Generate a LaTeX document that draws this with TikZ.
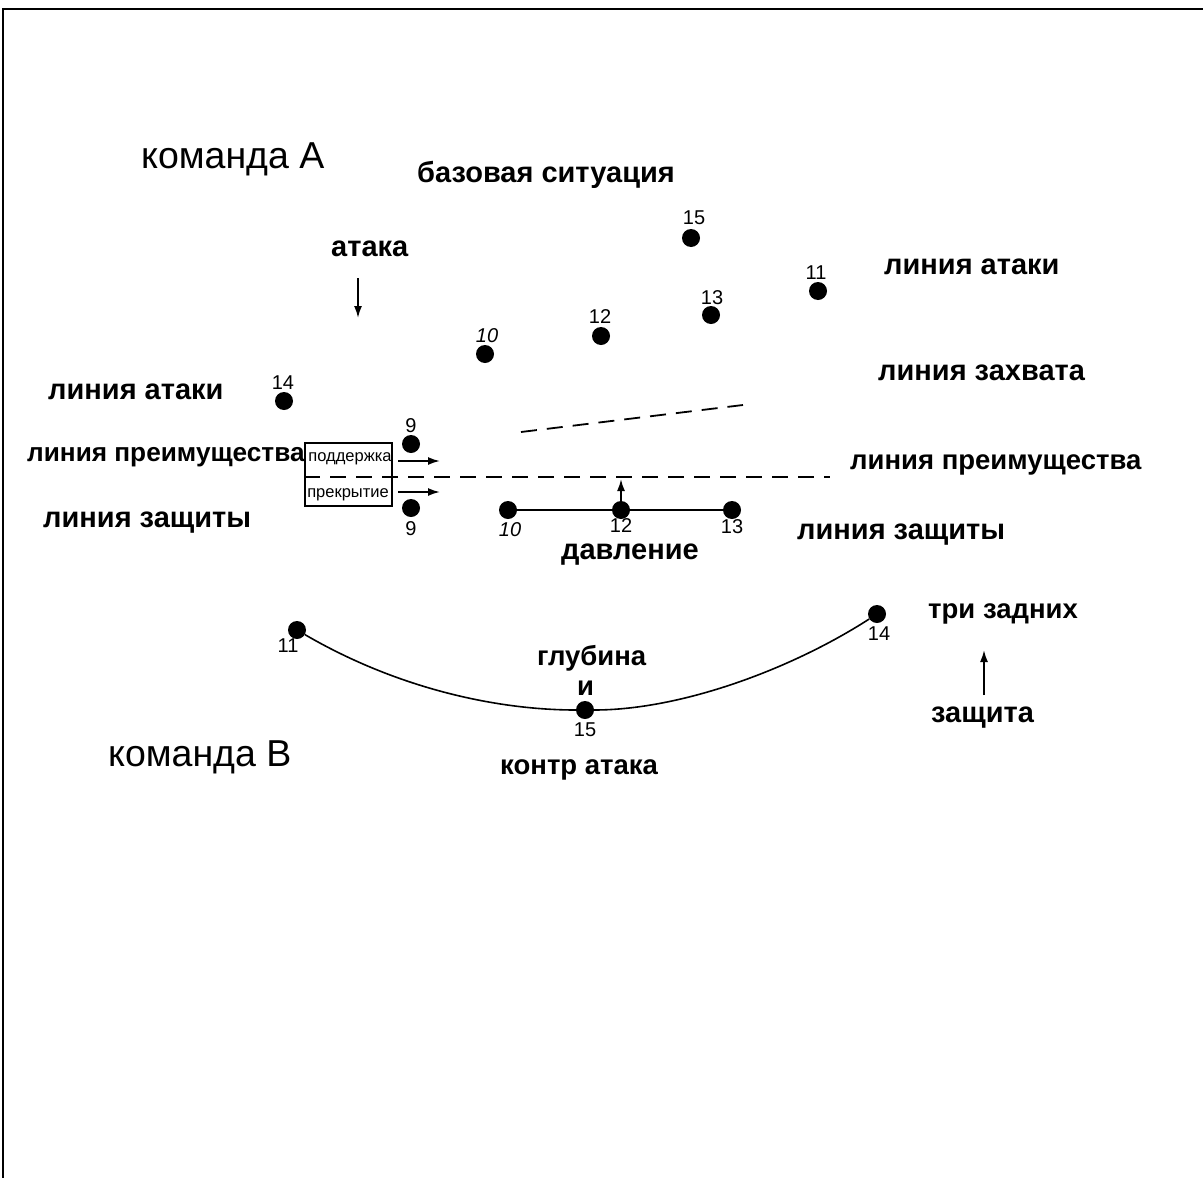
\documentclass[tikz,border=0pt]{standalone}
\usepackage{fontspec}
\setmainfont{Liberation Sans}
\usetikzlibrary{arrows.meta}
\begin{document}
\begin{tikzpicture}[x=1pt,y=-1pt,
  lbl/.style={font=\fontsize{29}{34}\selectfont\bfseries, inner sep=0, anchor=base west},
  lbls/.style={lbl, font=\fontsize{27.5}{32}\selectfont\bfseries},
  lblw/.style={lbl, font=\fontsize{27.5}{32}\selectfont\bfseries},
  team/.style={font=\fontsize{37.5}{44}\selectfont, inner sep=0, anchor=base west},
  num/.style={font=\fontsize{20}{22}\selectfont, inner sep=0, anchor=base},
  numi/.style={num, font=\fontsize{20}{22}\selectfont\itshape},
  boxtxt/.style={font=\fontsize{16.5}{18}\selectfont, inner sep=0},
  dot/.style={circle, fill=black, minimum size=18, inner sep=0},
  solid line/.style={line width=1.8pt},
  dashline/.style={line width=1.8pt, dash pattern=on 16pt off 10pt},
  arr/.style={line width=1.8pt, -{Latex[length=12pt,width=8pt]}}
]
\useasboundingbox (0,0) rectangle (1203,1178);

% frame
\draw[line width=2.5pt] (3,1178) -- (3,9) -- (1203,9);

% team labels and headings
\node[team] (teamA) at (141,168) {команда A};
\node[team] (teamB) at (108,766) {команда B};
\node[lbl] (base) at (417,182) {базовая ситуация};
\node[lbl] (atk) at (331,256) {атака};
\node[lbl] (atkR) at (884,274) {линия атаки};
\node[lbl] (atkL) at (48,399) {линия атаки};
\node[lbl] (capR) at (878,380) {линия захвата};
\node[lbl, font=\fontsize{26.2}{30}\selectfont\bfseries] (advL) at (27,461) {линия преимущества};
\node[lblw] (advR) at (850,469) {линия преимущества};
\node[lbl] (defL) at (43,527) {линия защиты};
\node[lbl] (defR) at (797,539) {линия защиты};
\node[lbl] (press) at (561,559) {давление};
\node[lbls] (three) at (928,618) {три задних};
\node[lbls] (deep) at (537,665) {глубина};
\node[lbls] (andw) at (577,695) {и};
\node[lbl] (guard) at (931,722) {защита};
\node[lbls] (counter) at (500,774) {контр атака};

% attacking players
\node[dot] (a15) at (691,238) {};
\node[dot] (a11) at (818,291) {};
\node[dot] (a13) at (711,315) {};
\node[dot] (a12) at (601,336) {};
\node[dot] (a10) at (485,354) {};
\node[dot] (a14) at (284,401) {};
\node[dot] (a9t) at (411,444) {};
\node[dot] (a9b) at (411,508) {};
\node[num] (n15) at (694,224) {15};
\node[num] (n11) at (816,279) {11};
\node[num] (n13) at (712,304) {13};
\node[num] (n12) at (600,323) {12};
\node[numi] (n10) at (487,342) {10};
\node[num] (n14) at (283,389) {14};
\node[num] (n9t) at (411,432) {9};
\node[num] (n9b) at (411,535) {9};

% defending line
\node[dot] (d10) at (508,510) {};
\node[dot] (d12) at (621,510) {};
\node[dot] (d13) at (732,510) {};
\node[numi] (m10) at (510,536) {10};
\node[num] (m12) at (621,532) {12};
\node[num] (m13) at (732,533) {13};
\draw[solid line] (d10) -- (d13);

% back three
\node[dot] (b11) at (297,630) {};
\node[dot] (b15) at (585,710) {};
\node[dot] (b14) at (877,614) {};
\node[num] (k11) at (288,652) {11};
\node[num] (k15) at (585,736) {15};
\node[num] (k14) at (879,640) {14};
\draw[line width=1.6pt] (b11) .. controls (400,690) and (500,710) .. (b15)
                        .. controls (680,710) and (790,670) .. (b14);

% support / cover box
\node[draw, line width=1.5pt, minimum width=87, minimum height=63, inner sep=0]
  (box) at (348.5,474.5) {};
\node[boxtxt] (sup) at (350,459) {поддержка};
\node[boxtxt] (cov) at (348,495) {прекрытие};

% lines
\coordinate (advS) at (box.west |- 0,477);
\coordinate (advE) at (830,477);
\draw[dashline] (advS) -- (advE);
\coordinate (capS) at (521,432);
\coordinate (capE) at (743,405);
\draw[dashline] (capS) -- (capE);

% arrows
\coordinate (atkA1) at (358,278);
\coordinate (atkA2) at (358,318);
\draw[arr] (atkA1) -- (atkA2);
\coordinate (supA1) at (398,461);
\coordinate (supA2) at (440,461);
\draw[arr] (supA1) -- (supA2);
\coordinate (covA1) at (398,492);
\coordinate (covA2) at (440,492);
\draw[arr] (covA1) -- (covA2);
\coordinate (prA) at (621,479);
\draw[arr] (d12) -- (prA);
\coordinate (grd1) at (984,695);
\coordinate (grd2) at (984,650);
\draw[arr] (grd1) -- (grd2);
\end{tikzpicture}
\end{document}
